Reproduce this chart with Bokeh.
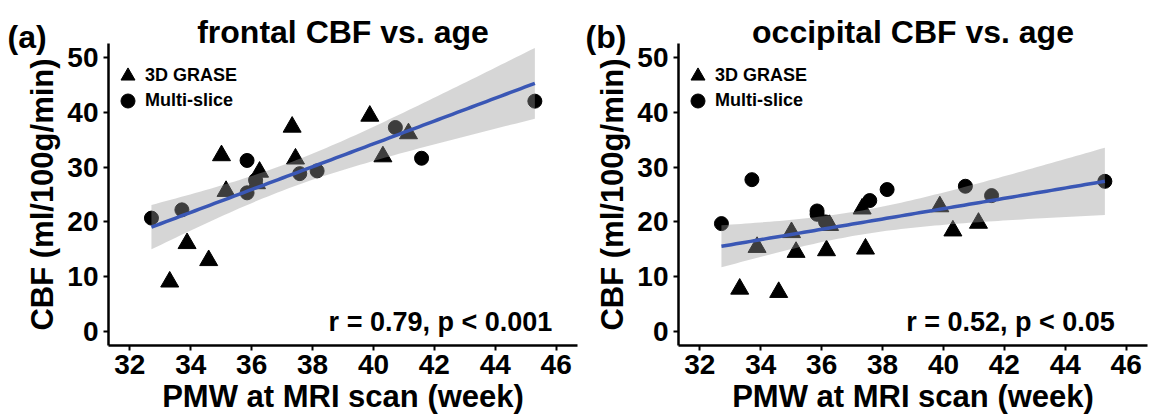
import numpy as np
from bokeh.plotting import figure
from bokeh.layouts import row
from bokeh.models import (Range1d, FixedTicker, Label, Legend, LegendItem)
from bokeh.embed import file_html
from bokeh.resources import INLINE

# ---------------- data ----------------
tri_x = [33.31, 33.88, 34.59, 35.01, 35.16, 36.16, 36.26, 37.33, 37.44, 39.88, 40.31, 41.15]
tri_frontal = [9.1, 16.1, 13.0, 32.1, 25.6, 27.0, 29.1, 37.3, 31.5, 39.3, 31.9, 36.1]
tri_occipital = [7.8, 15.4, 7.2, 18.1, 14.5, 14.8, 19.4, 22.4, 15.1, 22.8, 18.4, 19.8]

circ_x = [32.71, 33.71, 35.85, 35.85, 36.13, 37.58, 38.15, 40.72, 41.58, 45.30]
circ_frontal = [20.7, 22.2, 31.2, 25.3, 27.6, 28.8, 29.3, 37.2, 31.6, 42.0]
circ_occipital = [19.7, 27.7, 22.0, 21.4, 20.0, 23.9, 25.9, 26.5, 24.8, 27.4]

x_ticks = [32, 34, 36, 38, 40, 42, 44, 46]
y_ticks = [0, 10, 20, 30, 40, 50]
legend_labels = ["3D GRASE", "Multi-slice"]
titles = ["frontal CBF vs. age", "occipital CBF vs. age"]
tags = ["(a)", "(b)"]
stats = ["r = 0.79, p < 0.001", "r = 0.52, p < 0.05"]
x_label = "PMW at MRI scan (week)"
y_label = "CBF (ml/100g/min)"

X_LIM = (31.3, 46.7)
Y_LIM = (-2.5, 52.5)
T_CRIT = 2.086  # t(0.975, df=20)
STAT_X = 42.2
STAT_Y = 1.7

FONT = "Liberation Sans"
LINE_COLOR = "#3A57B5"

# ---------------- layout constants (pixels) ----------------
H = 419
PANEL_W = [578, 573]
AX_LEFT = [108, 100]     # px from figure left to the y axis line
AX_RIGHT = [1, 4]        # px from end of x axis line to figure right
AX_TOP = 43              # px from top to the end of the y axis line
AX_BOTTOM = 74           # px from x axis line to the bottom
TITLE_BASE = 31
TAG_BASE = 36
TAG_PAD = 7


def fit_band(xs, ys, n_grid=80):
    X = np.asarray(xs, float)
    Y = np.asarray(ys, float)
    n = len(X)
    b1, b0 = np.polyfit(X, Y, 1)
    resid = Y - (b0 + b1 * X)
    s = np.sqrt(np.sum(resid ** 2) / (n - 2))
    xm = X.mean()
    sxx = np.sum((X - xm) ** 2)
    g = np.linspace(X.min(), X.max(), n_grid)
    fit = b0 + b1 * g
    se = s * np.sqrt(1.0 / n + (g - xm) ** 2 / sxx)
    return g, fit, fit - T_CRIT * se, fit + T_CRIT * se


def make_panel(idx, y_tri, y_circ):
    W = PANEL_W[idx]
    plot_w = W - AX_LEFT[idx] - AX_RIGHT[idx]
    plot_h = H - AX_TOP - AX_BOTTOM
    kx = (X_LIM[1] - X_LIM[0]) / plot_w
    ky = (Y_LIM[1] - Y_LIM[0]) / plot_h
    xr = Range1d(X_LIM[0] - AX_LEFT[idx] * kx, X_LIM[1] + AX_RIGHT[idx] * kx)
    yr = Range1d(Y_LIM[0] - AX_BOTTOM * ky, Y_LIM[1] + AX_TOP * ky)

    p = figure(width=W, height=H, output_backend="svg", toolbar_location=None, title=None,
               x_range=xr, y_range=yr,
               min_border_left=0, min_border_right=0, min_border_top=0, min_border_bottom=0,
               x_axis_label=x_label, y_axis_label=y_label)
    p.outline_line_color = None
    p.grid.visible = False
    p.background_fill_color = "white"
    p.border_fill_color = "white"

    p.xaxis.fixed_location = Y_LIM[0]
    p.yaxis.fixed_location = X_LIM[0]
    p.xaxis.bounds = X_LIM
    p.yaxis.bounds = Y_LIM

    for ax, ticks in ((p.xaxis, x_ticks), (p.yaxis, y_ticks)):
        ax.ticker = FixedTicker(ticks=ticks)
        ax.axis_line_width = 2.5
        ax.axis_line_color = "black"
        ax.major_tick_line_width = 2
        ax.major_tick_line_color = "black"
        ax.major_tick_out = 5
        ax.major_tick_in = 0
        ax.minor_tick_line_color = None
        ax.major_label_text_font = FONT
        ax.major_label_text_font_style = "bold"
        ax.major_label_text_font_size = "28px"
        ax.major_label_text_color = "black"
        ax.axis_label_text_font = FONT
        ax.axis_label_text_font_style = "bold"
        ax.axis_label_text_font_size = "31px"
        ax.axis_label_text_color = "black"
    p.xaxis.major_label_standoff = 4
    p.xaxis.axis_label_standoff = 2
    p.yaxis.major_label_standoff = 5
    p.yaxis.axis_label_standoff = 4

    all_x = list(tri_x) + list(circ_x)
    all_y = list(y_tri) + list(y_circ)

    tri_r = p.scatter(tri_x, y_tri, marker="triangle", size=18, color="black")
    circ_r = p.scatter(circ_x, y_circ, marker="circle", size=14, color="black")

    g, fit, lo, hi = fit_band(all_x, all_y)
    p.varea(x=g, y1=lo, y2=hi, fill_color="#999999", fill_alpha=0.4)
    p.line(g, fit, line_color=LINE_COLOR, line_width=3.5)

    for item_label, rend, top_px in ((legend_labels[0], tri_r, 58),
                                     (legend_labels[1], circ_r, 83)):
        legend = Legend(items=[LegendItem(label=item_label, renderers=[rend])],
                        location=(AX_LEFT[idx] + 2, H - top_px - 35),
                        glyph_width=35, glyph_height=35,
                        padding=0, margin=0, label_standoff=-5,
                        border_line_color=None, background_fill_alpha=0,
                        label_text_font=FONT, label_text_font_style="bold",
                        label_text_font_size="18px", label_text_color="black")
        p.add_layout(legend)

    p.add_layout(Label(x=STAT_X, y=STAT_Y, text=stats[idx], text_align="center",
                       text_baseline="alphabetic", text_font=FONT, text_font_style="bold",
                       text_font_size="27px", text_color="black"))

    p.add_layout(Label(x=AX_LEFT[idx] + plot_w / 2, y=H - TITLE_BASE,
                       x_units="screen", y_units="screen", text=titles[idx],
                       text_align="center", text_baseline="alphabetic", text_font=FONT,
                       text_font_style="bold", text_font_size="32px", text_color="black"))
    p.add_layout(Label(x=TAG_PAD, y=H - TAG_BASE, x_units="screen", y_units="screen",
                       text=tags[idx], text_align="left", text_baseline="alphabetic",
                       text_font=FONT, text_font_style="bold", text_font_size="32px",
                       text_color="black"))
    return p


pa = make_panel(0, tri_frontal, circ_frontal)
pb = make_panel(1, tri_occipital, circ_occipital)

layout = row(pa, pb)
open("out.html", "w").write(file_html(layout, INLINE))
